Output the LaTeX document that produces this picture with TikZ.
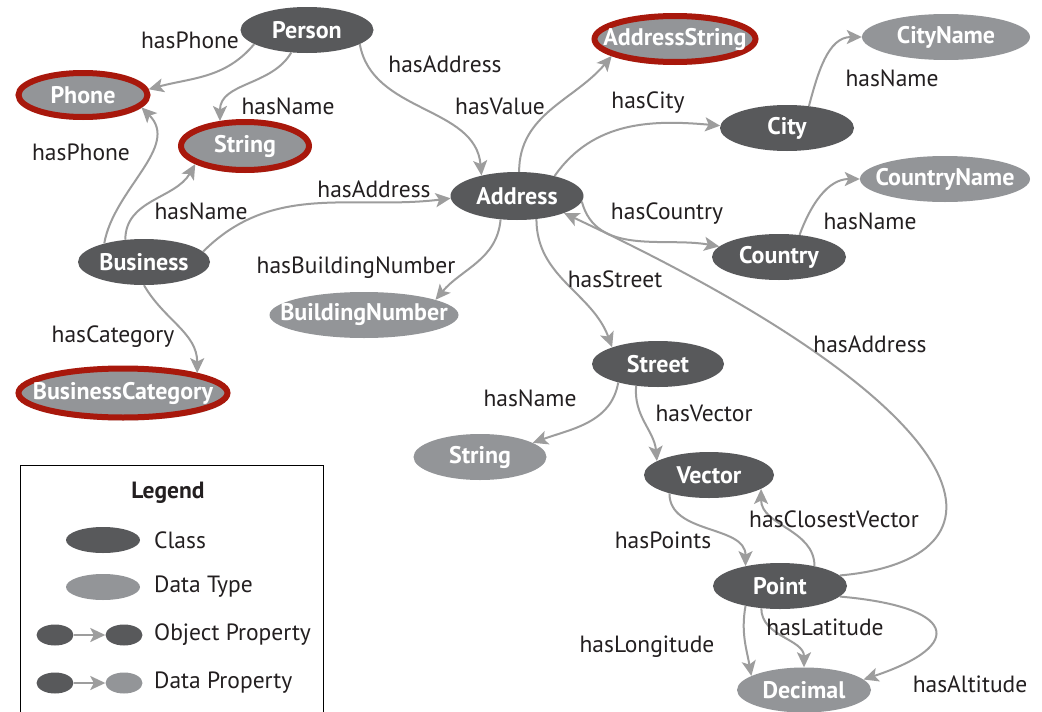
\documentclass[tikz,border=0pt]{standalone}
\usepackage{fontspec}
\setmainfont{PT Sans}
\usetikzlibrary{shapes.geometric,arrows.meta,shadows}
\definecolor{clsgray}{HTML}{58595B}
\definecolor{dtgray}{HTML}{939598}
\definecolor{edgegray}{HTML}{9D9D9D}
\definecolor{hlred}{HTML}{A8180C}
\definecolor{txtblack}{HTML}{231F20}
\newcommand{\nl}[1]{\makebox[0pt]{#1}}
\begin{document}
\begin{tikzpicture}[x=1pt,y=1pt,
  cls/.style={ellipse, fill=clsgray, text=white, font=\fontsize{24}{26}\selectfont\bfseries, inner sep=0pt, minimum height=46pt, minimum width=#1},
  dt/.style={ellipse, fill=dtgray, text=white, font=\fontsize{24}{26}\selectfont\bfseries, inner sep=0pt, minimum height=46pt, minimum width=#1},
  hl/.style={draw=hlred, line width=6pt, drop shadow={opacity=0.35, shadow xshift=1pt, shadow yshift=-3pt}},
  edge/.style={draw=edgegray, line width=2pt, -{Stealth[length=15pt,width=14pt,inset=3.5pt]}},
  lbl/.style={font=\fontsize{23.5}{26}\selectfont, text=txtblack, inner sep=0pt},
  lgcls/.style={ellipse, fill=clsgray, inner sep=0pt, minimum width=#1, minimum height=26pt},
  lgdt/.style={ellipse, fill=dtgray, inner sep=0pt, minimum width=#1, minimum height=26pt},
]
\fill[white] (0,0) rectangle (1042,-712);
\useasboundingbox (0,0) rectangle (1042,-712);

% nodes
\node[cls=133] (person) at (307,-30) {\nl{Person}};
\node[dt=129, minimum height=44pt, hl] (phone) at (83,-95) {\nl{Phone}};
\node[dt=128, minimum height=48pt, hl] (string1) at (245,-146) {\nl{String}};
\node[dt=161, hl] (addrstr) at (675,-39) {\nl{AddressString}};
\node[dt=168] (cityname) at (946,-37) {\nl{CityName}};
\node[cls=134] (city) at (787,-128) {\nl{City}};
\node[cls=133, minimum height=48pt] (address) at (517,-196) {\nl{Address}};
\node[dt=170] (countryname) at (945,-179) {\nl{CountryName}};
\node[cls=134] (country) at (779,-257) {\nl{Country}};
\node[cls=132] (business) at (144,-262) {\nl{Business}};
\node[dt=189] (buildnum) at (364,-315) {\nl{BuildingNumber}};
\node[dt=209, minimum height=49pt, hl] (buscat) at (123,-393) {\nl{BusinessCategory}};
\node[cls=132] (street) at (658,-364) {\nl{Street}};
\node[dt=133] (string2) at (480,-457) {\nl{String}};
\node[cls=130] (vector) at (709,-475) {\nl{Vector}};
\node[cls=134] (point) at (780,-586) {\nl{Point}};
\node[dt=134, minimum height=45pt] (decimal) at (804,-690) {\nl{Decimal}};

% edges
\draw[edge] (person.195) to[out=230,in=15] (phone.5);
\draw[edge] (person.235) to[out=240,in=90] (string1.135);
\draw[edge] (person.-15) to[out=-80,in=95] (address.150);
\draw[edge] (business.155) to[out=80,in=-45] (phone.-12);
\draw[edge] (business.130) to[out=90,in=-120] (string1.200);
\draw[edge] (business.10) to[out=45,in=187] (address.182);
\draw[edge] (business.-90) to[out=-60,in=90] (buscat.15);
\draw[edge] (address.85) to[out=90,in=-130] (addrstr.195);
\draw[edge] (address.28) to[out=55,in=175] (city.178);
\draw[edge] (address.-5) to[out=-75,in=170] (country.170);
\draw[edge] (address.235) to[out=-95,in=50] (buildnum.12);
\draw[edge] (address.-50) to[out=-90,in=110] (street.160);
\draw[edge] (point.10) .. controls (1015,-560) and (1005,-420) .. (address.-20);
\draw[edge] (street.205) to[out=-100,in=20] (string2.15);
\draw[edge] (street.225) to[out=-95,in=95] (vector.165);
\draw[edge] (vector.205) to[out=-90,in=90] (point.150);
\draw[edge] (point.30) to[out=90,in=-90] (vector.-15);
\draw[edge] (point.210) to[out=-100,in=100] (decimal.165);
\draw[edge] (point.230) to[out=-90,in=90] (decimal.90);
\draw[edge] (point.-10) .. controls +(115,-10) and +(105,35) .. (decimal.10);
\draw[edge] (city.45) to[out=75,in=180] (cityname.180);
\draw[edge] (country.47) to[out=70,in=180] (countryname.180);

% labels
\node[lbl] (l1) at (190,-40) {hasPhone};
\node[lbl] (l2) at (445,-64) {hasAddress};
\node[lbl] (l3) at (288,-106) {hasName};
\node[lbl] (l4) at (500,-106) {hasValue};
\node[lbl] (l5) at (81,-152) {hasPhone};
\node[lbl] (l6) at (201,-211) {hasName};
\node[lbl] (l7) at (374,-189) {hasAddress};
\node[lbl] (l8) at (648,-103) {hasCity};
\node[lbl] (l9) at (892,-78) {hasName};
\node[lbl] (l10) at (667,-214) {hasCountry};
\node[lbl] (l11) at (870,-221) {hasName};
\node[lbl] (l12) at (356,-268) {hasBuildingNumber};
\node[lbl] (l13) at (615,-279) {hasStreet};
\node[lbl] (l14) at (113,-337) {hasCategory};
\node[lbl] (l15) at (870,-344) {hasAddress};
\node[lbl] (l16) at (530,-398) {hasName};
\node[lbl] (l17) at (704,-413) {hasVector};
\node[lbl] (l18) at (834,-519) {hasClosestVector};
\node[lbl] (l19) at (663,-540) {hasPoints};
\node[lbl] (l20) at (825,-627) {hasLatitude};
\node[lbl] (l21) at (647,-647) {hasLongitude};
\node[lbl] (l22) at (970,-684) {hasAltitude};

% legend
\draw[line width=1pt, black] (20,-465) rectangle (323,-716);
\node[lbl, font=\fontsize{23.5}{26}\selectfont\bfseries] (lgtitle) at (168,-493) {Legend};
\node[lgcls=74] (lgc) at (103,-540) {};
\node[lbl, anchor=west] (lgct) at (154,-540) {Class};
\node[lgdt=74] (lgd) at (103,-587) {};
\node[lbl, anchor=west] (lgdtt) at (154,-587) {Data Type};
\node[lgcls=37, minimum height=21pt] (lgo1) at (55,-635) {};
\node[lgcls=37, minimum height=21pt] (lgo2) at (124,-635) {};
\draw[edge] (lgo1) -- (lgo2);
\node[lbl, anchor=west] (lgot) at (154,-635) {Object Property};
\node[lgcls=37, minimum height=21pt] (lgp1) at (55,-683) {};
\node[lgdt=37, minimum height=21pt] (lgp2) at (124,-683) {};
\draw[edge] (lgp1) -- (lgp2);
\node[lbl, anchor=west] (lgpt) at (154,-683) {Data Property};
\end{tikzpicture}
\end{document}
